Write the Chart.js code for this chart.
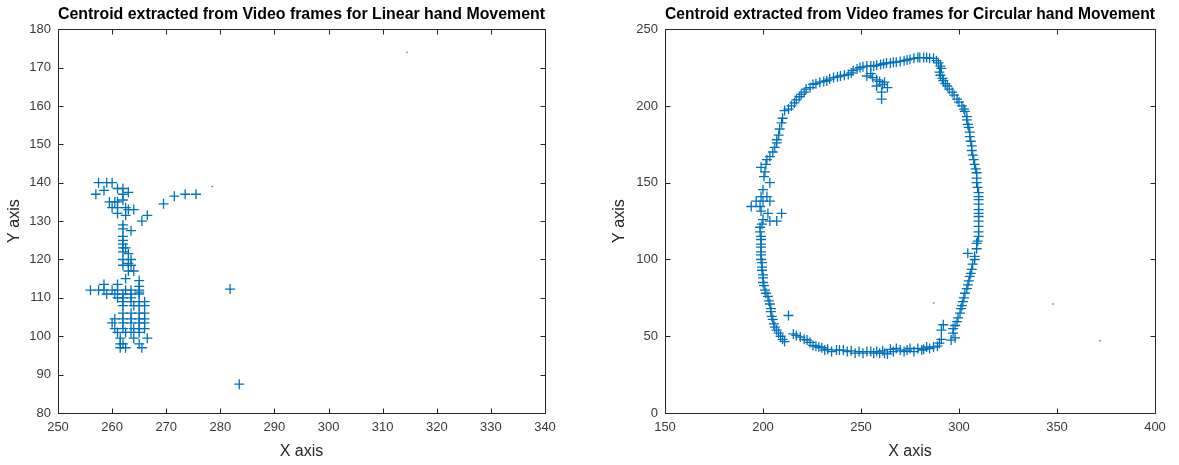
<!DOCTYPE html>
<html>
<head>
<meta charset="utf-8">
<script src="https://cdn.jsdelivr.net/npm/chart.js@4.4.1/dist/chart.umd.min.js"></script>
<style>
html, body { margin: 0; padding: 0; background: #fff; }
#wrap { display: flex; width: 1179px; height: 465px; }
</style>
</head>
<body>
<div id="wrap">
  <canvas id="linear" width="590" height="465"></canvas>
  <canvas id="circular" width="589" height="465"></canvas>
</div>
<script>
// centroid points [x, y]
const linearPoints = [
  [257.5,140],[259,140],[260,140],[257,137],[258.5,138],[261,138.5],[262,138.5],[262,137],[263,137.5],
  [259.5,135],[260.5,135],[261,135],[262,135.5],[260,133.5],[261,133.5],[262.5,133.5],[264,133],
  [261,132],[262.5,131.5],[263,133],
  [265.5,130],[266.5,131.5],[269.5,134.5],[271.5,136.5],[273.5,137],[275.5,137],
  [262,129],[262,128],[263.5,127.5],[262,126],[262,125],[262,124],[262,123],[262.5,123],[262,122],
  [263,121.5],[262,120],[263.5,120],[263,119],[263.5,118.5],[262,118.5],[263,117],[264,117],
  [262.5,115],[265,114.5],[265,113],[265,111.5],
  [256,112],[257.5,112],[258.5,112],[260,112],[261,112],[262.5,112],[263.5,112],[265,112],
  [258.5,113.5],[261,113.5],
  [259,111],[260.5,111],[262,111],[263.5,111],[265,111],
  [261,110],[262,110],[263.5,110],
  [262,109],[263.5,109],[265,109],[266,109],
  [262,108],[264,108],[265,108],[266,108],
  [262,106],[263.5,106],[265,106],[266,106],
  [260.5,104.5],[262,104.5],[263.5,104.5],[265,104.5],[266,104.5],
  [260,103.5],[262,103.5],[263.5,103.5],[265,103.5],[266,103.5],
  [260.5,102],[262,102],[264,102],[265,102],[266,102],
  [261,101],[262.5,101],[263.5,101],[265,101],
  [261.5,99.5],[264,99.5],[266.5,99.5],
  [261.5,98],[262,98],[265,98],
  [261.5,97],[262.5,97],[265.5,97],
  [281.8,112.3],[283.5,87.5]
];
const linearDots = [[278.5,139],[314.5,174]];

const circularPoints = [
  [199,160],[201.5,162],[202,165],[203.5,167],[205,170],[206,173],[207,176],[207,178],[208,181],
  [208.5,185],[209.5,189],[210,192],[211,197],[213,198],[214.5,200],[216,202],[217,204],[218.5,206],
  [219.5,207.5],[221,209],[222,211],[224,212],[225.5,214],[227,214.5],[229,215.5],[231,216],
  [232.5,216.5],[234,217.5],[236,218.5],[238,219],[239.5,219.5],[241.5,220],[243.5,220.5],[245,221.5],
  [246,223],[248,224],[249.5,225],[251,225.5],[253,226],[255,226],[256.5,226],[258,226.5],[260,227],
  [261.5,227.5],[263,228],[265,228],[266.5,228.5],[268,228.5],[270,229],[272,229.5],[273.5,230],
  [275,230.5],[277,231],[279,231.5],[280,231.5],[282,231.5],[283.5,231.5],[285,231],[287,231],
  [288.5,229.5],[289.5,228],[290.5,226],[291,224.5],[290,222],[290.5,220],[291.5,218],[292,216.5],
  [293,214.5],[294,213],[295,211],[296.5,209],[297.5,207],[299,204.5],[300,202.5],[301.5,200],
  [302.5,198],[303,196.5],[304,193],[304,191],[304.5,188],[305,186],[305.5,183],[305.5,180],
  [306,177],[306.5,174],[306.5,171],[307,168],[307.5,165],[308,162],[308.5,159],[309,156.5],
  [309,153],[309,150],[309.5,147],[310,143.5],[310,141],[310,139],[310,136],[310,132.5],[310,130],
  [310,128],[310,125],[310,121.5],[310,118],[310,115],[309.5,112],[309,110.5],[309,107],
  [304.5,104],[308,102],[308,100],[307,97],[306.5,93.5],[306,91],[305.5,89],[305,86],[304.5,83.5],
  [304,81],[303,78],[302.5,75],[302,72.5],[301.5,70],[301,68],[300.5,65],[299.5,62],[299,59.5],
  [298,57],[297,55],[292,57.5],[291,54],[297,52],[298,49],[296,47.5],[291,48],[290,45.5],[289,43.5],
  [287,43],[285,42],[283.5,43],[282,41.5],[281,41],[279,42],[277,40],[275,42],[273.5,41],[272,40],
  [270,41],[268,42],[266.5,40],[265,41.5],[263.5,38.5],[262,39],[261,40.5],[259.5,39],[258,40],
  [256.5,39],[255,40],[253,40],[251,39],[249,40],[247,39],[245,40.5],[243,40],[241,41],[239,41],
  [237.5,41],[235,40],[233,41.5],[231.5,41],[230,42.5],[228.5,43],[227,43.5],[225.5,44],[224,46],
  [222.5,47.5],[221,48],[219,49.5],[217,50.5],[215.5,51.5],[213,63.5],[211,46.5],[210,48],[209,50],
  [208,52],[207,54],[206,56],[205.5,58],[205,61],[204.5,63],[204,66],[204,68],[203.5,71],[203,73],
  [202.5,76],[201.5,78],[201,80],[200.5,83],[200,85],[200,88],[200,90],[199.5,93],[199.5,95],
  [199.5,98],[199,100],[199,103],[199,105],[199,108],[199,110],[199,113],[199,115],[198.5,118],
  [198.5,121],[199.5,123],[200,126],[203.5,125],[207,125],[209.5,130],[202.5,130],[199,131.5],
  [198.5,134.5],[194,134.5],[196.5,138],[200,138],[203.5,138],[199,141],[202,141],[200,145.5],
  [203.5,150],[200.5,154],[201,157],
  [253,219.5],[256,218.5],[258,217],[259.5,216],[261,214],[263.5,212],[258,213],[260.5,209],
  [260.5,204.5],[262,215.5],[255,221]
];
const circularDots = [[287.2,71.7],[348,71],[372,47]];

const linearTitle = 'Centroid extracted from Video frames for Linear hand Movement';
const circularTitle = 'Centroid extracted from Video frames for Circular hand Movement';
const linearXRange = [250, 340, 10];
const linearYRange = [80, 180, 10];
const circularXRange = [150, 400, 50];
const circularYRange = [0, 250, 50];

const FONT = '"Liberation Sans", Arial, Helvetica, sans-serif';
const BLUE = '#0072BD';
const AXIS = '#262626';
const TICKTXT = '#3a3a3a';

// MATLAB style box with inward tick marks on all four sides
const matlabBox = {
  id: 'matlabBox',
  afterDatasetsDraw(chart) {
    const { ctx, chartArea: a, scales } = chart;
    const len = 5;
    ctx.save();
    ctx.strokeStyle = AXIS;
    ctx.lineWidth = 1;
    ctx.beginPath();
    const L = Math.round(a.left) + 0.5, R = Math.round(a.right) + 0.5;
    const T = Math.round(a.top) + 0.5, B = Math.round(a.bottom) + 0.5;
    ctx.rect(L, T, R - L, B - T);
    scales.x.ticks.forEach(t => {
      const px = Math.round(scales.x.getPixelForValue(t.value)) + 0.5;
      ctx.moveTo(px, B); ctx.lineTo(px, B - len);
      ctx.moveTo(px, T); ctx.lineTo(px, T + len);
    });
    scales.y.ticks.forEach(t => {
      const py = Math.round(scales.y.getPixelForValue(t.value)) + 0.5;
      ctx.moveTo(L, py); ctx.lineTo(L + len, py);
      ctx.moveTo(R, py); ctx.lineTo(R - len, py);
    });
    ctx.stroke();
    ctx.restore();
  }
};

function toXY(list) {
  return list.map(p => ({ x: p[0], y: p[1] }));
}

function makeChart(id, title, points, dots, xr, yr, yWidth, yTitlePad, pad) {
  const axis = (range, label, titlePad, extra) => Object.assign({
    type: 'linear',
    min: range[0],
    max: range[1],
    ticks: { stepSize: range[2], color: TICKTXT, font: { family: FONT, size: 13 }, padding: 7 },
    grid: { display: false, drawTicks: false },
    border: { display: false },
    title: { display: true, text: label, color: AXIS, padding: titlePad, font: { family: FONT, size: 16 } }
  }, extra);

  return new Chart(document.getElementById(id).getContext('2d'), {
    type: 'scatter',
    data: {
      datasets: [{
        data: toXY(points),
        pointStyle: 'cross',
        pointRadius: 5,
        pointBorderWidth: 1.3,
        borderColor: BLUE,
        backgroundColor: BLUE
      }, {
        data: toXY(dots),
        pointStyle: 'circle',
        pointRadius: 0.8,
        pointBorderWidth: 0,
        borderColor: BLUE,
        backgroundColor: BLUE
      }]
    },
    options: {
      responsive: false,
      animation: false,
      layout: { padding: pad },
      plugins: {
        legend: { display: false },
        tooltip: { enabled: false },
        title: {
          display: true,
          text: title,
          fullSize: false,
          color: '#000',
          font: { family: FONT, size: 16, weight: 'bold' },
          padding: { top: 5, bottom: 5 }
        }
      },
      scales: {
        x: axis(xr, 'X axis', { top: 4, bottom: 4 }, {
          afterFit(s) { s.height = 52; }
        }),
        y: axis(yr, 'Y axis', { top: yTitlePad, bottom: 4 }, {
          afterFit(s) { s.width = yWidth; }
        })
      }
    },
    plugins: [matlabBox]
  });
}

makeChart('linear', linearTitle, linearPoints, linearDots, linearXRange, linearYRange, 58, 5,
  { left: 0, right: 45, top: 0, bottom: 0 });
makeChart('circular', circularTitle, circularPoints, circularDots, circularXRange, circularYRange, 61, 6,
  { left: 14, right: 24, top: 0, bottom: 0 });
</script>
</body>
</html>
